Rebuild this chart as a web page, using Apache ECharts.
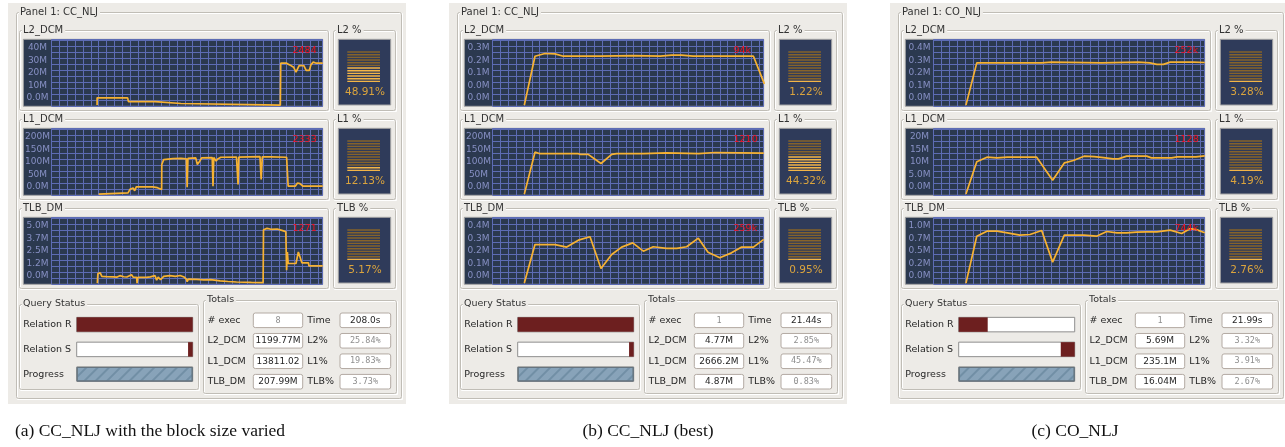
<!DOCTYPE html>
<html>
<head>
<meta charset="utf-8">
<script src="https://cdn.jsdelivr.net/npm/echarts@6/dist/echarts.min.js"></script>
<style>
  html, body { margin: 0; padding: 0; background: #ffffff; }
  #chart { width: 1285px; height: 447px; }
</style>
</head>
<body>
<div id="chart"></div>
<script>
// ---- monitor panels: titles and captions ----
const panelTitles = ['Panel 1: CC_NLJ', 'Panel 1: CC_NLJ', 'Panel 1: CO_NLJ'];
const captions = ['(a) CC_NLJ with the block size varied', '(b) CC_NLJ (best)', '(c) CO_NLJ'];
const chartTitles = ['L2_DCM', 'L1_DCM', 'TLB_DM'];
const meterTitles = ['L2 %', 'L1 %', 'TLB %'];

// top tick value of each miss chart, in millions
const axisTop = [[40, 200, 5], [0.3, 200, 0.4], [0.4, 20, 1.0]];

// miss samples per chart: [sample position, misses in millions]
const variedL2 = [[5.8,0],[5.8,4.3],[9.7,4.3],[9.8,2.1],[13.2,2.1],[13.3,0.95],[16.5,0.95],[16.6,0],[29.2,0],[29.25,24.8],[30.0,24.8],[30.4,23.8],[30.9,22.4],[31.2,19.5],[31.4,19.8],[31.6,23.4],[32.2,23.4],[32.5,20.5],[32.9,20.5],[33.1,23.8],[33.4,25.4],[33.8,24.8],[34.62,24.8451]];
const variedL1 = [[6.0,0],[6.0,3.7],[9.75,3.7],[10.0,14],[10.2,9],[10.4,18],[10.6,10],[10.8,21.5],[12.9,21.5],[13.1,18.5],[13.5,19],[13.75,13.6],[14.04,13.6],[14.06,87.6],[14.3,102],[14.5,104.3],[15.5,105],[16.5,105.5],[17.2,104.5],[17.3,20.5],[17.4,105.5],[18.4,107],[18.6,87.6],[18.9,97],[19.15,107],[20.5,108],[20.6,23],[20.7,108],[21.0,98],[21.2,104],[21.4,99],[21.6,109],[23.6,109.5],[23.8,28.4],[23.9,109.5],[26.6,111],[26.75,43],[26.9,110.5],[28.0,110],[30.0,109],[30.2,23.3],[31.1,23.3],[31.4,33],[31.7,31],[32.1,23.3],[34.62,23.332]];
const variedTLB = [[5.83,0],[5.9,0.7],[6.1,0.7],[6.2,0.76],[6.4,0.5],[7.0,0.48],[7.9,0.46],[8.3,0.44],[8.7,0.55],[9.2,0.47],[9.6,0.45],[10.2,0.62],[10.4,0.44],[10.85,0.42],[10.9,0.0],[11.0,0.43],[12.1,0.42],[12.6,0.46],[13.2,0.55],[13.4,0.22],[13.6,0.45],[13.9,0.25],[14.3,0.5],[15.1,0.55],[15.8,0.5],[16.4,0.56],[16.9,0.45],[17.2,0.3],[17.3,0.1],[17.45,0.3],[18.5,0.27],[19.4,0.24],[20.3,0.26],[21.5,0.16],[22.5,0.12],[23.6,0.08],[25.5,0.05],[27.0,0.04],[27.05,3.95],[27.5,4.05],[28.0,3.98],[28.8,4.0],[29.5,3.88],[29.9,3.8],[30.0,0.95],[30.1,2.3],[30.2,1.45],[31.2,1.45],[31.5,2.3],[31.7,2.2],[31.95,1.5],[32.8,1.5],[32.85,1.27],[34.62,1.271]];
const bestL2 = [[4.04,0],[5.4,0.217],[6.68,0.229],[7.96,0.2275],[9.02,0.217],[13.7,0.217],[13.9,0.22],[17.96,0.22],[18.2,0.217],[21.4,0.217],[21.6,0.2216],[22.86,0.2216],[23.07,0.217],[24.1,0.2216],[25.6,0.217],[33.3,0.217],[34.7,0.094]];
const bestL1 = [[4.04,0],[5.4,124],[6.04,119.5],[10.94,119.5],[11.2,117.5],[12.2,117.5],[13.83,90.5],[15.2,117.5],[15.84,120],[19.24,120],[19.32,122],[22.2,122],[22.4,120],[26.3,120],[26.5,123],[28.4,123],[28.6,120],[34.62,121.0]];
const bestTLB = [[4.04,0],[5.4,0.228],[6.68,0.228],[7.96,0.228],[9.45,0.213],[10.94,0.254],[12.43,0.274],[13.83,0.086],[15.2,0.169],[16.47,0.213],[17.88,0.238],[19.24,0.189],[20.5,0.215],[22.2,0.205],[23.5,0.205],[24.77,0.215],[26.26,0.266],[27.5,0.183],[29.0,0.15],[30.5,0.179],[31.8,0.213],[33.3,0.213],[34.62,0.259]];
const coL2 = [[4.12,0],[5.5,0.25],[13.8,0.25],[14.0,0.254],[15.06,0.254],[15.3,0.25],[21.45,0.25],[21.6,0.254],[26.1,0.254],[26.3,0.25],[27.6,0.25],[28.5,0.241],[29.33,0.241],[30.2,0.254],[33.16,0.254],[34.62,0.252]];
const coL1 = [[4.12,0],[5.5,9.55],[6.8,10.93],[8.1,10.73],[9.4,10.93],[13.15,10.93],[15.19,4.12],[16.7,9.25],[17.84,9.94],[19.2,11.22],[20.5,11.1],[21.7,10.8],[22.9,10.43],[23.6,10.43],[24.65,11.22],[27.2,11.22],[27.8,10.73],[30.4,10.73],[31.1,11.0],[33.5,11.0],[34.62,11.288]];
const coTLB = [[4.12,0],[5.5,0.694],[6.8,0.768],[8.1,0.768],[9.4,0.744],[11.0,0.709],[12.3,0.719],[13.79,0.778],[15.19,0.31],[16.68,0.709],[17.84,0.709],[19.2,0.709],[20.8,0.694],[22.1,0.763],[23.4,0.744],[24.65,0.744],[25.9,0.753],[27.2,0.758],[28.5,0.758],[30.2,0.783],[31.67,0.734],[32.73,0.803],[33.37,0.798],[34.62,0.744]];
const missSeries = [[variedL2, variedL1, variedTLB], [bestL2, bestL1, bestTLB], [coL2, coL1, coTLB]];

// miss ratio meters, percent
const meterPercent = [[48.91, 12.13, 5.17], [1.22, 44.32, 0.95], [3.28, 4.19, 2.76]];

// query status bars, percent of the relation
const statusRows = ['Relation R', 'Relation S', 'Progress'];
const relationRDone = [100, 100, 25];
const relationSWindow = [[96, 100], [96, 100], [88, 100]];
const progressDone = [100, 100, 100];

// totals
const totalsLeftLabels = ['# exec', 'L2_DCM', 'L1_DCM', 'TLB_DM'];
const totalsRightLabels = ['Time', 'L2%', 'L1%', 'TLB%'];
const execCounts = ['8', '1', '1'];
const timeTotals = ['208.0s', '21.44s', '21.99s'];
const l2Totals = ['1199.77M', '4.77M', '5.69M'];
const l1Totals = ['13811.02M', '2666.2M', '235.1M'];
const tlbTotals = ['207.99M', '4.87M', '16.04M'];
const l2Ratios = ['25.84%', '2.85%', '3.32%'];
const l1Ratios = ['19.83%', '45.47%', '3.91%'];
const tlbRatios = ['3.73%', '0.83%', '2.67%'];

// ---- drawing ----
const PANEL_X = [0, 441, 882];
const ROW_Y = [0, 89, 178];
const FONT = '"DejaVu Sans"';
const MONO = '"DejaVu Sans Mono"';
const COL = {
  panel: '#edebe7', edge: '#c0bdb6', plot: '#2b394f', grid: '#5d6cb4', tick: '#8790c4',
  line: '#f7b232', current: '#f0101e', meter: '#2f3b5a', lit: '#f3b547', dim: '#86632a',
  pct: '#dba43d', red: '#6d1f1f', text: '#262626', mono: '#8e8e8e', frame: '#a4a4a4'
};
const LEVELS = 12;
const PLOT_W = 271, PLOT_H = 67, GRID_STEP_X = 7.83, GRID_STEP_Y = 6;

const gfx = [];
function fillRect(x, y, w, h, style, z) {
  gfx.push({ type: 'rect', z: z, silent: true, shape: { x: x, y: y, width: w, height: h, r: style.radius || 0 },
    style: { fill: style.fill || 'none', stroke: style.stroke || null, lineWidth: style.lineWidth || 1 } });
}
function label(x, y, str, o) {
  const st = { text: str, fill: o.fill || COL.text, font: o.font, align: o.align || 'left',
    textAlign: o.align || 'left', verticalAlign: 'middle', textVerticalAlign: 'middle' };
  if (o.width) { st.width = o.width; st.overflow = 'truncate'; st.ellipsis = ''; }
  if (o.bg) { st.backgroundColor = o.bg; st.padding = [0, 2, 0, 1]; }
  gfx.push({ type: 'text', z: o.z || 20, silent: true, x: x, y: y, style: st });
}
function groupBox(x, y, w, h, title, size) {
  fillRect(x + 1, y + 1, w, h, { stroke: '#ffffff' }, -9);
  fillRect(x, y, w, h, { stroke: COL.edge, radius: 2 }, -8);
  label(x + 2.5, y - 0.5, title, { font: size + 'px ' + FONT, fill: '#333333', bg: COL.panel, z: 5 });
}
function tickText(v) {
  if (v >= 10) return Math.floor(v + 1e-6) + 'M';
  return (Math.floor(v * 10 + 1e-6) / 10).toFixed(1) + 'M';
}
function currentText(v) {
  return v >= 10 ? String(Math.round(v * 1e6)) : Math.round(v * 1000) + 'k';
}
function meterRender(params, api) {
  const pct = api.value(1);
  const lit = 1 + Math.floor(pct / 100 * LEVELS);
  const x0 = api.coord([0, 0])[0], x1 = api.coord([1, 0])[0];
  const children = [];
  for (let i = 0; i < LEVELS; i++) {
    const y = api.coord([0, i + 0.5])[1];
    children.push({ type: 'rect', shape: { x: x0, y: y - 0.7, width: x1 - x0, height: 1.4 },
      style: { fill: i < lit ? COL.lit : COL.dim } });
  }
  return { type: 'group', children: children };
}

const grids = [], xAxes = [], yAxes = [], series = [];

for (let p = 0; p < 3; p++) {
  const ox = PANEL_X[p];
  fillRect(ox + 8, 3, 398, 401, { fill: COL.panel }, -20);
  groupBox(ox + 16.5, 12.5, 385, 386, panelTitles[p], 10);

  for (let c = 0; c < 3; c++) {
    const oy = ROW_Y[c];
    const M = axisTop[p][c];
    groupBox(ox + 19.5, 30.5 + oy, 309, 80, chartTitles[c], 10);
    groupBox(ox + 333.5, 30.5 + oy, 62, 80, meterTitles[c], 10);
    fillRect(ox + 23.3, 39.3 + oy, 299.4, PLOT_H, { fill: COL.plot, stroke: COL.frame }, -5);
    fillRect(ox + 338.3, 39.3 + oy, 52.4, 65.7, { fill: COL.meter, stroke: COL.frame }, -5);

    // miss chart
    const gi = grids.length;
    grids.push({ left: ox + 51.7, top: 39.3 + oy, width: PLOT_W, height: PLOT_H, show: false });
    const xi = xAxes.length;
    xAxes.push({ gridIndex: gi, type: 'value', min: 0, max: PLOT_W / GRID_STEP_X, interval: 1,
      axisLine: { show: false }, axisTick: { show: false }, axisLabel: { show: false },
      splitLine: { show: true, lineStyle: { color: COL.grid, width: 1 } } });
    const yi = yAxes.length;
    const dataMin = -1.2 / 67.6 * M;
    yAxes.push({ gridIndex: gi, type: 'value', show: false, min: dataMin, max: dataMin + PLOT_H / 67.6 * M });
    yAxes.push({ gridIndex: gi, type: 'value', position: 'left', min: -0.168 * M, max: 1.172 * M,
      axisLine: { show: false }, axisTick: { show: false }, splitLine: { show: false },
      axisLabel: { show: true, customValues: [0, M / 4, M / 2, M * 3 / 4, M], formatter: tickText,
        color: COL.tick, fontSize: 9, fontFamily: 'DejaVu Sans', align: 'center', margin: 14.2 } });
    yAxes.push({ gridIndex: gi, type: 'value', position: 'right', min: 0, max: PLOT_H / GRID_STEP_Y, interval: 1,
      axisLine: { show: false }, axisTick: { show: false }, axisLabel: { show: false },
      splitLine: { show: true, lineStyle: { color: COL.grid, width: 1 } } });
    const pts = missSeries[p][c];
    series.push({ type: 'line', xAxisIndex: xi, yAxisIndex: yi, data: pts, symbol: 'none', showSymbol: false,
      lineStyle: { color: COL.line, width: 1.7 }, clip: true, animation: false, z: 3 });
    label(ox + 292.5, 51 + oy, currentText(pts[pts.length - 1][1]),
      { font: '9.5px ' + FONT, fill: COL.current, width: 30.2, z: 25 });

    // miss ratio meter
    const mi = grids.length;
    grids.push({ left: ox + 347.3, top: 50.7 + oy, width: 32.7, height: 32, show: false });
    const mx = xAxes.length;
    xAxes.push({ gridIndex: mi, type: 'value', min: 0, max: 1, show: false });
    const my = yAxes.length;
    yAxes.push({ gridIndex: mi, type: 'value', min: 0, max: LEVELS, show: false });
    series.push({ type: 'custom', xAxisIndex: mx, yAxisIndex: my, data: [[0, meterPercent[p][c]]],
      renderItem: meterRender, animation: false, z: 3 });
    label(ox + 365, 92.7 + oy, meterPercent[p][c].toFixed(2) + '%',
      { font: '10.5px ' + FONT, fill: COL.pct, align: 'center' });
  }

  // query status
  groupBox(ox + 19.5, 304.5, 179, 85, 'Query Status', 9.5);
  const si = grids.length;
  grids.push({ left: ox + 76.7, top: 312.2, width: 116, height: 74.4, show: false });
  const sx = xAxes.length;
  xAxes.push({ gridIndex: si, type: 'value', min: 0, max: 100, show: false });
  const sy = yAxes.length;
  yAxes.push({ gridIndex: si, type: 'category', inverse: true, data: statusRows,
    axisLine: { show: false }, axisTick: { show: false }, splitLine: { show: false },
    axisLabel: { color: COL.text, fontSize: 9.5, fontFamily: 'DejaVu Sans', align: 'left', margin: 53.4 } });
  series.push({ type: 'bar', stack: 'status' + p, xAxisIndex: sx, yAxisIndex: sy, barWidth: 14.5,
    data: [0, relationSWindow[p][0], 0], itemStyle: { color: 'rgba(0,0,0,0)' },
    showBackground: true, backgroundStyle: { color: '#ffffff', borderColor: '#8e8e8e', borderWidth: 1 },
    animation: false, silent: true });
  series.push({ type: 'bar', stack: 'status' + p, xAxisIndex: sx, yAxisIndex: sy, barWidth: 14.5,
    data: [
      { value: relationRDone[p], itemStyle: { color: COL.red } },
      { value: relationSWindow[p][1] - relationSWindow[p][0], itemStyle: { color: COL.red } },
      { value: progressDone[p], itemStyle: { color: '#88a3b9', borderColor: '#66747f', borderWidth: 1,
        decal: { symbol: 'rect', dashArrayX: [1, 0], dashArrayY: [2, 6], rotation: -Math.PI / 4,
          color: 'rgba(95,125,150,0.55)' } } }
    ], animation: false, silent: true });

  // totals
  groupBox(ox + 203.5, 300.5, 193, 93, 'Totals', 9.5);
  const leftVals = [execCounts[p], l2Totals[p], l1Totals[p], tlbTotals[p]];
  const rightVals = [timeTotals[p], l2Ratios[p], l1Ratios[p], tlbRatios[p]];
  for (let r = 0; r < 4; r++) {
    const y = 320.3 + r * 20.47;
    label(ox + 207.5, y, totalsLeftLabels[r], { font: '9.5px ' + FONT });
    label(ox + 307.3, y, totalsRightLabels[r], { font: '9.5px ' + FONT });
    fillRect(ox + 253.3, y - 7.3, 49.4, 14.6, { fill: '#ffffff', stroke: '#b3aaa3', radius: 2 }, -4);
    fillRect(ox + 340, y - 7.3, 50.7, 14.6, { fill: '#ffffff', stroke: '#b3aaa3', radius: 2 }, -4);
    const leftMono = r === 0, rightMono = r > 0;
    label(ox + 278, y, leftVals[r], leftMono
      ? { font: '8.5px ' + MONO, fill: COL.mono, align: 'center' }
      : { font: '9px ' + FONT, align: 'center', width: 47 });
    label(ox + 365.3, y, rightVals[r], rightMono
      ? { font: '8.5px ' + MONO, fill: COL.mono, align: 'center' }
      : { font: '9px ' + FONT, align: 'center', width: 48 });
  }
}

// sub-figure captions
const captionX = [150, 648, 1075];
for (let p = 0; p < 3; p++) {
  label(captionX[p], 431, captions[p], { font: '17.5px "Liberation Serif"', fill: '#111111', align: 'center' });
}

const chart = echarts.init(document.getElementById('chart'), null, { renderer: 'canvas', width: 1285, height: 447 });
chart.setOption({
  animation: false,
  backgroundColor: '#ffffff',
  grid: grids,
  xAxis: xAxes,
  yAxis: yAxes,
  series: series,
  graphic: { elements: gfx }
});
</script>
</body>
</html>
